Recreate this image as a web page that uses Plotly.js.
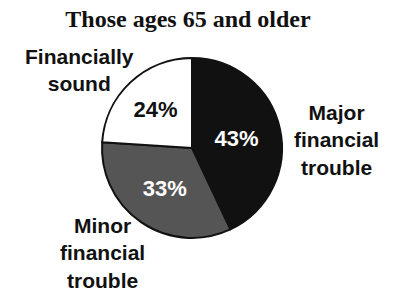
<!DOCTYPE html>
<html><head><meta charset="utf-8">
<script src="https://cdn.plot.ly/plotly-3.0.1.min.js"></script>
<style>body{margin:0;padding:0;background:#fff}#c{width:395px;height:291px}</style>
</head><body><div id="c"></div>
<script>
const categories = ["Major financial trouble", "Minor financial trouble", "Financially sound"];
const shares = [43, 33, 24];
const labelTexts = ["Major<br>financial<br>trouble", "Minor<br>financial<br>trouble", "Financially<br>sound"];
const sliceColors = ["#111111", "#555555", "#ffffff"];
const textColors = ["#ffffff", "#ffffff", "#111111"];
const labelPos = [[336, 140], [102, 253], [79, 70]];

const W = 395, H = 291;
const data = [{
  type: "pie",
  labels: categories,
  values: shares,
  sort: false,
  direction: "clockwise",
  rotation: 0,
  textinfo: "percent",
  texttemplate: "%{percent:.0%}",
  textposition: "inside",
  insidetextorientation: "horizontal",
  textfont: {family: "Liberation Sans, Arial, sans-serif", size: 22, color: textColors, weight: "bold"},
  marker: {colors: sliceColors, line: {color: "#111111", width: 2}},
  domain: {x: [102 / W, 282 / W], y: [1 - 238 / H, 1 - 58 / H]},
  showlegend: false,
  hoverinfo: "none"
}];
const annotations = labelTexts.map((t, i) => ({
  text: t, xref: "paper", yref: "paper",
  x: labelPos[i][0] / W, y: 1 - labelPos[i][1] / H,
  xanchor: "center", yanchor: "middle", showarrow: false, align: "center",
  font: {family: "Liberation Sans, Arial, sans-serif", size: 21, color: "#111111", weight: "bold"}
}));
const layout = {
  width: W, height: H,
  margin: {l: 0, r: 0, t: 0, b: 0},
  paper_bgcolor: "#ffffff",
  title: {text: "<b>Those ages 65 and older</b>", x: 188 / W, xanchor: "center", y: 1 - 19 / H, yanchor: "middle",
          font: {family: "Liberation Serif, Times New Roman, serif", size: 24, color: "#111111"}},
  annotations: annotations
};
Plotly.newPlot("c", data, layout, {staticPlot: true});
</script></body></html>
